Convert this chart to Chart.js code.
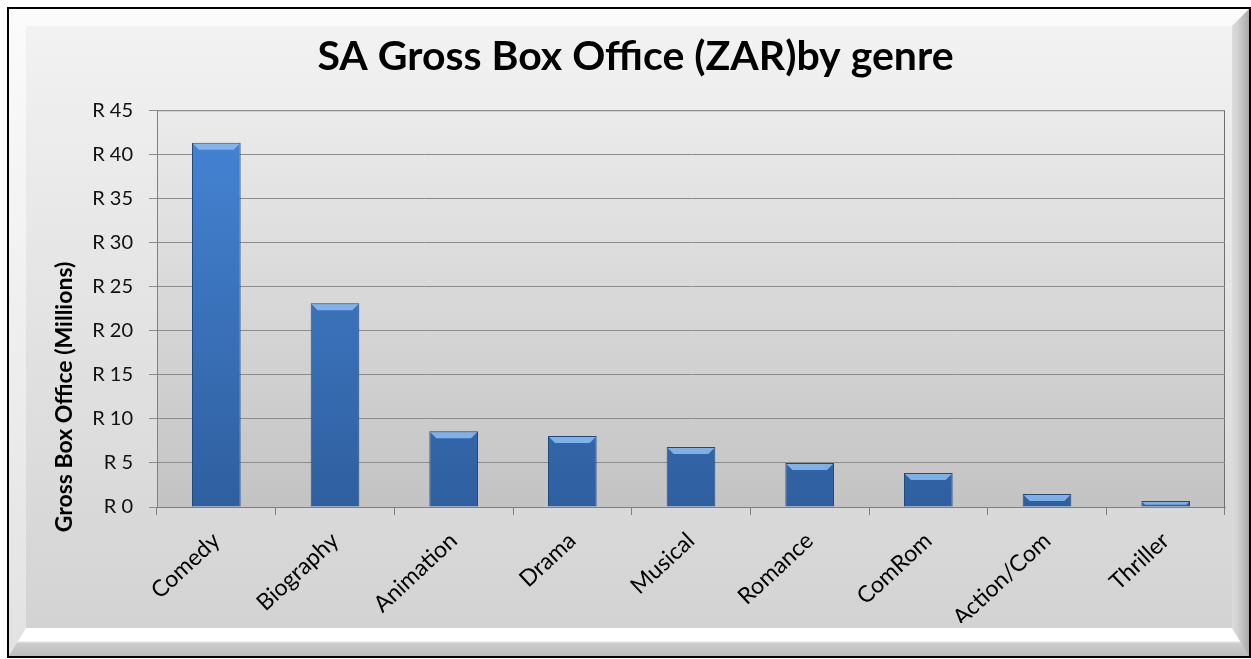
<!DOCTYPE html>
<html>
<head>
<meta charset="utf-8">
<script src="https://cdn.jsdelivr.net/npm/chart.js@4.4.1/dist/chart.umd.min.js"></script>
<style>
  html, body { margin: 0; padding: 0; background: #fff; }
  #wrap { width: 1251px; height: 659px; }
</style>
</head>
<body>
<div id="wrap"><canvas id="grafico"></canvas></div>
<script>
const genres = ['Comedy', 'Biography', 'Animation', 'Drama', 'Musical', 'Romance', 'ComRom', 'Action/Com', 'Thriller'];
const grossMillions = [41.3, 23.1, 8.6, 8.05, 6.8, 5.0, 3.85, 1.47, 0.68];
const yMax = 45;
const yStep = 5;
const yTitle = 'Gross Box Office (Millions)';

// frame + plot area backgrounds (Excel-like bevel)
const fondo = {
  id: 'fondo',
  beforeDraw(chart) {
    const c = chart.ctx;
    const W = chart.width, H = chart.height;
    c.save();
    c.fillStyle = '#ffffff';
    c.fillRect(0, 0, W, H);

    // outer frame
    let g = c.createLinearGradient(0, 8, 0, 657);
    g.addColorStop(0, '#fbfbfb');
    g.addColorStop(1, '#e2e2e2');
    c.fillStyle = g;
    c.fillRect(9, 9, 1240, 647);

    // right bevel
    g = c.createLinearGradient(1226, 0, 1249, 0);
    g.addColorStop(0, '#e6e6e6');
    g.addColorStop(0.5, '#d2d2d2');
    g.addColorStop(1, '#a9a9a9');
    c.fillStyle = g;
    c.beginPath();
    c.moveTo(1249, 9); c.lineTo(1249, 656); c.lineTo(1232, 642); c.lineTo(1232, 26); c.closePath();
    c.fill();

    // bottom bevel
    g = c.createLinearGradient(0, 628, 0, 656);
    g.addColorStop(0, '#ffffff');
    g.addColorStop(0.45, '#ffffff');
    g.addColorStop(0.55, '#cdcdcd');
    g.addColorStop(1, '#bcbcbc');
    c.fillStyle = g;
    c.beginPath();
    c.moveTo(9, 656); c.lineTo(1249, 656); c.lineTo(1232, 628); c.lineTo(26, 628); c.closePath();
    c.fill();

    // inner panel
    g = c.createLinearGradient(0, 26, 0, 628);
    g.addColorStop(0, '#f2f2f2');
    g.addColorStop(1, '#d3d3d3');
    c.fillStyle = g;
    c.fillRect(26, 26, 1206, 602);

    // black border
    c.strokeStyle = '#000000';
    c.lineWidth = 2;
    c.strokeRect(8, 8, 1242, 649);

    // plot area
    const a = chart.chartArea;
    g = c.createLinearGradient(0, a.top, 0, a.bottom);
    g.addColorStop(0, '#ebebeb');
    g.addColorStop(1, '#c3c3c3');
    c.fillStyle = g;
    c.fillRect(a.left, a.top, a.right - a.left, a.bottom - a.top);
    c.strokeStyle = '#6e6e6e';
    c.lineWidth = 1;
    c.beginPath();
    c.moveTo(a.left, a.top + 0.5); c.lineTo(a.right - 0.5, a.top + 0.5); c.lineTo(a.right - 0.5, a.bottom);
    c.stroke();
    c.restore();
  },
  afterDatasetsDraw(chart) {
    // light bevel on bar tops
    const c = chart.ctx;
    c.save();
    chart.getDatasetMeta(0).data.forEach(bar => {
      const half = bar.width / 2;
      const h = Math.min(6, (bar.base - bar.y) / 2);
      c.fillStyle = 'rgba(140,190,245,0.85)';
      c.beginPath();
      c.moveTo(bar.x - half + 1, bar.y + 1);
      c.lineTo(bar.x + half - 1, bar.y + 1);
      c.lineTo(bar.x + half - 1 - h, bar.y + 1 + h);
      c.lineTo(bar.x - half + 1 + h, bar.y + 1 + h);
      c.closePath();
      c.fill();
    });
    c.restore();
  },
  afterDraw(chart) {
    // y axis title sits lower than centre, as in the original
    const c = chart.ctx;
    c.save();
    c.translate(72, 397);
    c.rotate(-Math.PI / 2);
    c.font = 'bold 23px Lato';
    c.fillStyle = '#000';
    c.textAlign = 'center';
    c.textBaseline = 'alphabetic';
    c.fillText(yTitle, 0, 0);
    c.restore();
  }
};

const ctx = document.getElementById('grafico').getContext('2d');

const miGrafico = new Chart(ctx, {
  type: 'bar',
  data: {
    labels: genres,
    datasets: [{
      label: 'Gross Box Office',
      data: grossMillions,
      backgroundColor: (context) => {
        const a = context.chart.chartArea;
        if (!a) return '#3d75bf';
        const g = context.chart.ctx.createLinearGradient(0, a.top, 0, a.bottom);
        g.addColorStop(0, '#4585d6');
        g.addColorStop(1, '#2f5f9f');
        return g;
      },
      borderColor: '#1e4a82',
      borderWidth: 1,
      categoryPercentage: 1,
      barPercentage: 0.41
    }]
  },
  options: {
    responsive: true,
    maintainAspectRatio: false,
    animation: false,
    layout: { padding: { left: 46, right: 26, top: 24, bottom: 36 } },
    plugins: {
      legend: { display: false },
      tooltip: { enabled: false },
      title: {
        display: true,
        text: 'SA Gross Box Office (ZAR)by genre',
        color: '#000',
        font: { family: 'Lato', size: 41, weight: 'bold', lineHeight: 1.2 },
        padding: { top: 8, bottom: 29 }
      }
    },
    scales: {
      x: {
        offset: true,
        grid: { display: true, drawOnChartArea: false, offset: true, tickLength: 8, color: '#808080' },
        border: { color: '#808080' },
        ticks: {
          color: '#000',
          font: { family: 'Lato', size: 23 },
          minRotation: 43,
          maxRotation: 43,
          padding: 12
        },
        afterFit(scale) { scale.height = 659 - 507 - 36; }
      },
      y: {
        min: 0,
        max: yMax,
        ticks: {
          stepSize: yStep,
          color: '#111',
          font: { family: 'Lato', size: 20 },
          padding: 16,
          callback: v => 'R ' + v
        },
        grid: { color: '#8c8c8c', tickLength: 8 },
        border: { color: '#808080' },
        title: { display: false },
        afterFit(scale) { scale.width = 157 - 46; }
      }
    }
  },
  plugins: [fondo]
});
</script>
</body>
</html>
